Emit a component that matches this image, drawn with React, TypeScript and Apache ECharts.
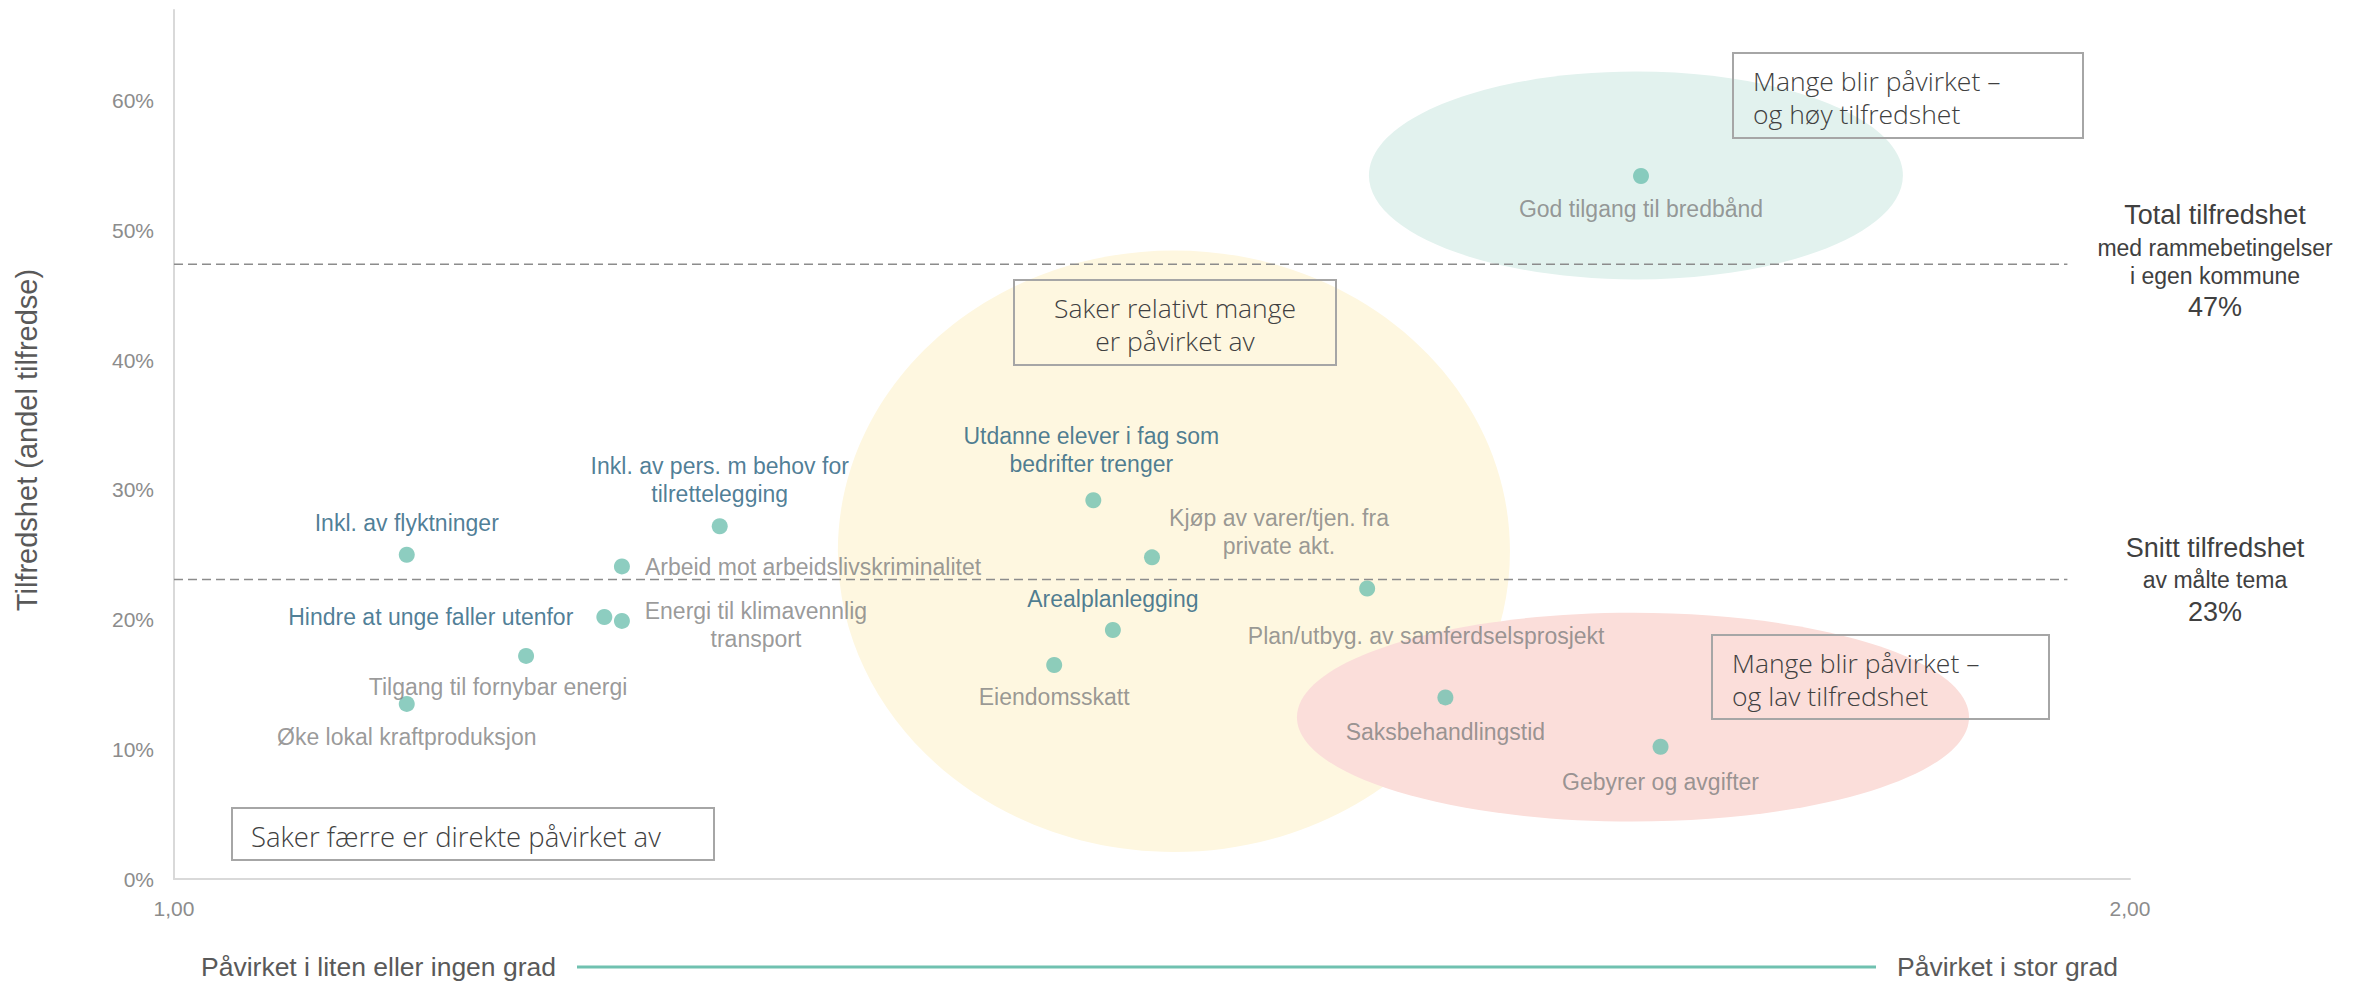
import React, { useEffect, useRef } from "react";
import * as echarts from "echarts";

// ---------- data ----------
const topics: string[] = [
  "God tilgang til bredbånd",
  "Inkl. av flyktninger",
  "Inkl. av pers. m behov for\ntilrettelegging",
  "Arbeid mot arbeidslivskriminalitet",
  "Hindre at unge faller utenfor",
  "Energi til klimavennlig\ntransport",
  "Tilgang til fornybar energi",
  "Øke lokal kraftproduksjon",
  "Utdanne elever i fag som\nbedrifter trenger",
  "Kjøp av varer/tjen. fra\nprivate akt.",
  "Arealplanlegging",
  "Eiendomsskatt",
  "Plan/utbyg. av samferdselsprosjekt",
  "Saksbehandlingstid",
  "Gebyrer og avgifter",
];
const impact: number[] = [1.75, 1.119, 1.279, 1.229, 1.22, 1.229, 1.18, 1.119, 1.47, 1.5, 1.48, 1.45, 1.61, 1.65, 1.76];
const satisfaction: number[] = [0.542, 0.25, 0.272, 0.241, 0.202, 0.199, 0.172, 0.135, 0.292, 0.248, 0.192, 0.165, 0.224, 0.14, 0.102];
const highlighted: boolean[] = [false, true, true, false, true, false, false, false, true, false, true, false, false, false, false];

const totalSatisfaction = 0.474;
const avgSatisfaction = 0.231;
const refLineEnd = 1.968;

const xTickLabels: Record<number, string> = { 1: "1,00", 2: "2,00" };

// label placement (dx, dy from dot centre, alignment)
const labelPlacement: [number, number, string][] = [
  [0, 33, "center"],
  [0, -32, "center"],
  [0, -46, "center"],
  [23, 1, "left"],
  [-31, 0, "right"],
  [134, 4, "center"],
  [-28, 31, "center"],
  [0, 33, "center"],
  [-2, -50, "center"],
  [127, -25, "center"],
  [0, -31, "center"],
  [0, 32, "center"],
  [59, 48, "center"],
  [0, 35, "center"],
  [0, 35, "center"],
];

// regions (centre x, centre y, radius x, radius y) in data units
const regions: { c: [number, number]; r: [number, number]; color: string }[] = [
  { c: [1.7474, 0.5424], r: [0.1365, 0.0801], color: "#E2F2EE" },
  { c: [1.5112, 0.2527], r: [0.1718, 0.2319], color: "#FEF7E0" },
  { c: [1.7459, 0.1248], r: [0.1718, 0.0805], color: "#FBDEDA" },
];

const ARIAL = "'Liberation Sans', Arial, sans-serif";
const BOXFONT = "'Open Sans', 'DejaVu Sans', sans-serif";
const DOT = "#70C1B0";
const BLUE = "#1F5D7C";
const GREY = "#7F7F7F";
const DARK = "#404040";

export default function App() {
  const ref = useRef<HTMLDivElement>(null);
  useEffect(() => {
    if (!ref.current) return;
    const chart = echarts.init(ref.current, undefined, { renderer: "svg" });
    const SYM = 16;
    const data = topics.map((name, i) => {
      const [dx, dy, align] = labelPlacement[i];
      return {
        name,
        value: [impact[i], satisfaction[i]],
        label: {
          show: true,
          formatter: name,
          position: [SYM / 2 + dx, SYM / 2 + dy],
          align,
          verticalAlign: "middle",
          color: highlighted[i] ? BLUE : GREY,
          fontSize: 23,
          lineHeight: 28,
          fontFamily: ARIAL,
        },
      };
    });
    const dashed = {
      type: "line",
      symbol: "none",
      silent: true,
      z: 1,
      lineStyle: { color: "#8C8C8C", width: 1.5, type: [9, 5] },
    };
    chart.setOption({
      animation: false,
      grid: { left: 174, right: 239, top: 10, bottom: 104, containLabel: false },
      xAxis: {
        type: "value",
        min: 1,
        max: 2,
        interval: 1,
        axisLine: { show: true, lineStyle: { color: "#D9D9D9", width: 2 } },
        axisTick: { show: false },
        splitLine: { show: false },
        axisLabel: {
          color: "#8C8C8C",
          fontSize: 21,
          fontFamily: ARIAL,
          margin: 19,
          formatter: (v: number) => xTickLabels[v] ?? "",
        },
      },
      yAxis: {
        type: "value",
        min: 0,
        max: 0.67,
        interval: 0.1,
        axisLine: { show: true, lineStyle: { color: "#D9D9D9", width: 2 } },
        axisTick: { show: false },
        splitLine: { show: false },
        axisLabel: {
          color: "#8C8C8C",
          fontSize: 21,
          fontFamily: ARIAL,
          margin: 20,
          showMaxLabel: false,
          formatter: (v: number) => `${Math.round(v * 100)}%`,
        },
      },
      series: [
        { ...dashed, name: "Total", data: [[1, totalSatisfaction], [refLineEnd, totalSatisfaction]] },
        { ...dashed, name: "Snitt", data: [[1, avgSatisfaction], [refLineEnd, avgSatisfaction]] },
        {
          type: "scatter",
          name: "Tema",
          z: 3,
          symbol: "circle",
          symbolSize: SYM,
          itemStyle: { color: DOT },
          data,
        },
      ],
    });

    const px = (p: [number, number]) => chart.convertToPixel({ gridIndex: 0 }, p) as number[];
    const ellipses = regions.map((r) => {
      const c = px(r.c);
      const ex = px([r.c[0] + r.r[0], r.c[1]]);
      const ey = px([r.c[0], r.c[1] + r.r[1]]);
      return {
        type: "ellipse",
        z: -10,
        silent: true,
        shape: { cx: c[0], cy: c[1], rx: Math.abs(ex[0] - c[0]), ry: Math.abs(c[1] - ey[1]) },
        style: { fill: r.color },
      };
    });

    const txt = (
      text: string,
      x: number,
      y: number,
      size: number,
      color: string,
      align: string,
      font = ARIAL,
      weight = "normal",
      extra: any = {},
      lineHeight?: number
    ) => ({
      type: "text",
      z: 5,
      silent: true,
      x,
      y,
      ...extra,
      style: {
        text,
        x: 0,
        y: 0,
        fill: color,
        font: `${weight} ${size}px ${font}`,
        align,
        verticalAlign: "middle",
        textAlign: align,
        textVerticalAlign: "middle",
        ...(lineHeight ? { lineHeight } : {}),
      },
    });
    const box = (x: number, y: number, w: number, h: number) => ({
      type: "rect",
      z: 4,
      silent: true,
      shape: { x, y, width: w, height: h },
      style: { fill: "rgba(0,0,0,0)", stroke: "#A6A6A6", lineWidth: 2 },
    });
    const BS = 26.5;
    const BW = "300";

    chart.setOption({
      graphic: [
        ...ellipses,
        box(1733, 53, 350, 85),
        txt("Mange blir påvirket –\nog høy tilfredshet", 1753, 97.5, BS, DARK, "left", BOXFONT, BW, {}, 33),
        box(1014, 280, 322, 85),
        txt("Saker relativt mange\ner påvirket av", 1175, 324, BS, DARK, "center", BOXFONT, BW, {}, 33),
        box(1712, 635, 337, 84),
        txt("Mange blir påvirket –\nog lav tilfredshet", 1732, 679.5, BS, DARK, "left", BOXFONT, BW, {}, 33),
        box(232, 808, 482, 52),
        txt("Saker færre er direkte påvirket av", 251, 836, 27.5, DARK, "left", BOXFONT, BW),
        txt("Total tilfredshet", 2215, 215, 27, DARK, "center"),
        txt("med rammebetingelser", 2215, 248, 23, DARK, "center"),
        txt("i egen kommune", 2215, 276, 23, DARK, "center"),
        txt("47%", 2215, 307, 27, DARK, "center"),
        txt("Snitt tilfredshet", 2215, 548, 27, DARK, "center"),
        txt("av målte tema", 2215, 580, 23, DARK, "center"),
        txt("23%", 2215, 612, 27, DARK, "center"),
        txt("Tilfredshet (andel tilfredse)", 27, 440, 29, "#595959", "center", ARIAL, "normal", { rotation: Math.PI / 2 }),
        {
          type: "line",
          z: 5,
          silent: true,
          shape: { x1: 577, y1: 967, x2: 1876, y2: 967 },
          style: { stroke: DOT, lineWidth: 3 },
        },
        txt("Påvirket i liten eller ingen grad", 556, 967, 26.5, "#595959", "right"),
        txt("Påvirket i stor grad", 1897, 967, 26.5, "#595959", "left"),
      ],
    });

    return () => chart.dispose();
  }, []);
  return (
    <div
      ref={ref}
      style={{ position: "fixed", left: 0, top: 0, width: 2369, height: 983, background: "#fff" }}
    />
  );
}
